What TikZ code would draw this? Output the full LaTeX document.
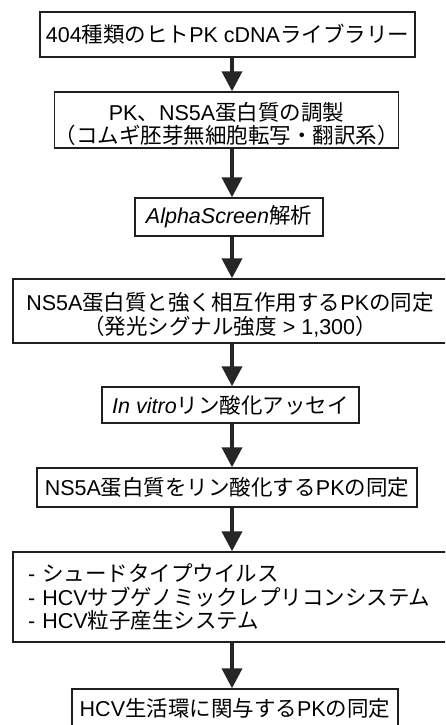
\documentclass[tikz,border=0pt]{standalone}
\usepackage{fontspec}
\setmainfont{Liberation Sans}
\newfontfamily\jpfont{Noto Sans CJK JP}
\newcommand\J[1]{{\jpfont #1}}
\newcommand\lowstrut{\rule{0pt}{26pt}}
\usetikzlibrary{arrows.meta}
\begin{document}
\begin{tikzpicture}[x=1pt,y=-1pt,
  box/.style={draw=black!88, line width=1.4pt, inner sep=0pt, fill=white,
    font=\fontsize{21.5}{23.5}\selectfont, align=center},
  arr/.style={line width=3.8pt, draw=black!85, -{Triangle[width=20pt,length=20pt]}},
]
\useasboundingbox (0,0) rectangle (445,725);
\clip (0,0) rectangle (445,725);
\fill[white] (0,0) rectangle (445,725);
\coordinate (ax) at (232,0);

\node[box, minimum width=375pt, minimum height=45pt] (b1) at (227.5,34.5)
  {404\J{種類のヒト}PK cDNA\J{ライブラリー}};
\node[box, minimum width=343pt, minimum height=56pt] (b2) at (226.5,120)
  {\lowstrut PK\J{、}NS5A\J{蛋白質の調製}\\ \J{（コムギ胚芽無細胞転写・翻訳系）}};
\node[box, minimum width=188pt, minimum height=38pt] (b3) at (229,217)
  {\textit{AlphaScreen}\J{解析}};
\node[box, minimum width=434pt, minimum height=64pt] (b4) at (230,311)
  {\lowstrut NS5A\J{蛋白質と強く相互作用する}PK\J{の同定}\\ \J{（発光シグナル強度} > 1,300\J{）}};
\node[box, minimum width=257pt, minimum height=36pt] (b5) at (230.5,405)
  {\textit{In vitro}\J{リン酸化アッセイ}};
\node[box, minimum width=380pt, minimum height=39pt] (b6) at (227,487.5)
  {NS5A\J{蛋白質をリン酸化する}PK\J{の同定}};
\node[box, inner xsep=15pt, text width=404pt, align=left, minimum height=90pt] (b7) at (230,597)
  {- \J{シュードタイプウイルス}\\ - HCV\J{サブゲノミックレプリコンシステム}\\ - HCV\J{粒子産生システム}};
\node[box, minimum width=326pt, minimum height=38pt] (b8) at (235,708)
  {HCV\J{生活環に関与する}PK\J{の同定}};

\draw[arr] (b1.south -| ax) -- (b2.north -| ax);
\draw[arr] (b2.south -| ax) -- (b3.north -| ax);
\draw[arr] (b3.south -| ax) -- (b4.north -| ax);
\draw[arr] (b4.south -| ax) -- (b5.north -| ax);
\draw[arr] (b5.south -| ax) -- (b6.north -| ax);
\draw[arr] (b6.south -| ax) -- (b7.north -| ax);
\draw[arr] (b7.south -| ax) -- (b8.north -| ax);
\end{tikzpicture}
\end{document}
